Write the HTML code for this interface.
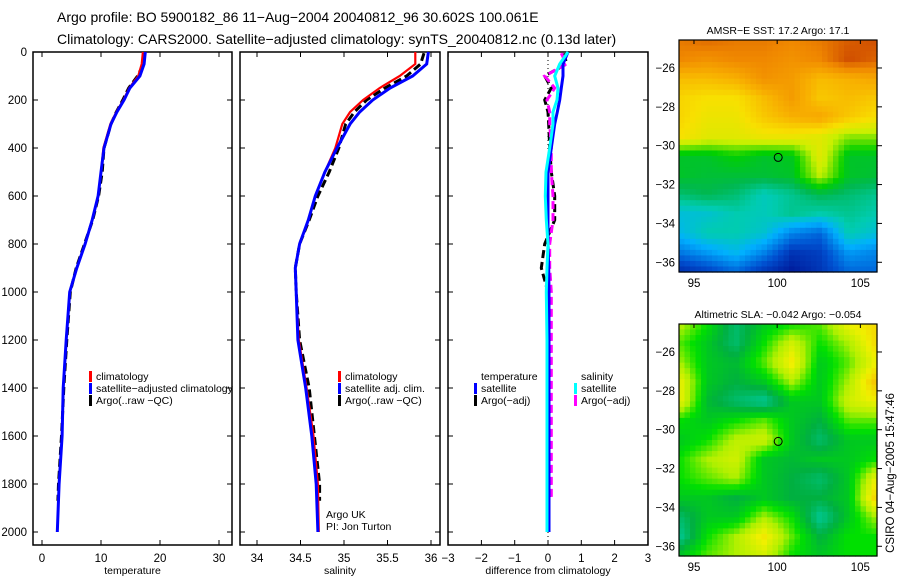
<!DOCTYPE html>
<html><head><meta charset="utf-8">
<style>
html,body{margin:0;padding:0;background:#fff;}
svg{display:block;font-family:"Liberation Sans",sans-serif;}
</style></head>
<body>
<svg id="fig" width="900" height="580" viewBox="0 0 900 580" xmlns="http://www.w3.org/2000/svg">
<text x="57" y="22" font-size="14">Argo profile: BO 5900182_86 11−Aug−2004 20040812_96 30.602S 100.061E</text>
<text x="57" y="44" font-size="14">Climatology: CARS2000. Satellite−adjusted climatology: synTS_20040812.nc (0.13d later)</text>
<g id="plots"></g>
</svg>
<script>
// ---------- data ----------
const depths = [0,50,100,150,200,250,300,400,500,600,700,800,900,1000,1200,1400,1600,1800,2000];
const tempSat  = [17.5,17.3,16.6,14.9,13.9,12.7,11.7,10.5,10.0,9.5,8.5,7.3,5.9,4.7,4.1,3.6,3.4,2.9,2.6];
const tempClim = [17.1,16.9,16.3,14.8,13.8,12.6,11.6,10.4,10.0,9.5,8.5,7.3,5.9,4.7,4.1,3.6,3.4,2.9,2.6];
const argoDepths = [5,50,100,150,200,250,300,400,500,600,700,800,900,1000,1200,1400,1600,1800,1870];
const tempArgo = [17.4,17.2,16.2,14.7,13.7,12.6,11.7,10.5,10.2,9.6,8.6,7.2,5.8,4.8,4.2,3.7,3.3,2.8,2.7];
const salSat  = [35.97,35.95,35.79,35.53,35.33,35.18,35.07,34.92,34.78,34.67,34.59,34.49,34.44,34.45,34.47,34.56,34.63,34.68,34.70];
const salClim = [35.82,35.82,35.64,35.41,35.22,35.07,34.98,34.90,34.78,34.67,34.59,34.49,34.44,34.45,34.48,34.57,34.65,34.70,34.71];
const salArgo = [35.92,35.88,35.72,35.47,35.26,35.12,35.02,34.94,34.83,34.70,34.60,34.49,34.44,34.45,34.49,34.60,34.66,34.72,34.72];
const diffTempSat  = [0.6,0.45,0.45,0.4,0.35,0.28,0.2,0.1,0.0,0.0,0.0,0.0,0.02,0.03,0.03,0.03,0.03,0.03,0.03];
const diffSalSat   = [0.6,0.35,0.2,0.3,0.27,0.15,0.15,0.05,-0.06,-0.08,-0.05,0.0,-0.03,-0.05,-0.03,-0.03,-0.03,-0.03,-0.03];
const diffTempArgo = [0.5,0.55,-0.1,0.1,-0.1,0.0,0.02,0.05,0.1,0.2,0.2,-0.1,-0.2,0.0,0.05,0.05,0.05,0.05,0.05];
const diffSalArgo  = [0.4,0.55,-0.1,0.2,-0.03,0.05,0.05,0.1,0.1,0.15,0.15,0.05,0.05,0.1,0.1,0.1,0.1,0.1,0.1];
const depthTicks = [0,200,400,600,800,1000,1200,1400,1600,1800,2000];
const tempTicks = [0,10,20,30];
const salTicks = [34,34.5,35,35.5,36];
const diffTicks = [-3,-2,-1,0,1,2,3];
const sstGrid = [
[0.84,0.86,0.84,0.84,0.82,0.84,0.88,0.90],
[0.82,0.80,0.82,0.82,0.80,0.82,0.90,0.87],
[0.72,0.72,0.74,0.80,0.78,0.72,0.74,0.76],
[0.68,0.66,0.66,0.72,0.78,0.70,0.72,0.70],
[0.68,0.64,0.64,0.70,0.74,0.76,0.70,0.66],
[0.66,0.62,0.62,0.64,0.64,0.62,0.55,0.55],
[0.45,0.45,0.48,0.45,0.46,0.62,0.45,0.45],
[0.45,0.44,0.44,0.44,0.45,0.58,0.45,0.44],
[0.40,0.42,0.40,0.35,0.38,0.42,0.40,0.38],
[0.32,0.33,0.36,0.35,0.38,0.36,0.38,0.36],
[0.30,0.36,0.36,0.33,0.22,0.18,0.36,0.32],
[0.20,0.25,0.30,0.22,0.10,0.12,0.25,0.22],
[0.08,0.12,0.18,0.10,0.05,0.10,0.18,0.18]];
const slaGrid = [
[0.62,0.50,0.35,0.45,0.50,0.55,0.70,0.75],
[0.55,0.45,0.35,0.50,0.65,0.50,0.60,0.75],
[0.60,0.45,0.42,0.55,0.72,0.45,0.55,0.70],
[0.70,0.45,0.40,0.45,0.60,0.45,0.60,0.80],
[0.70,0.42,0.35,0.30,0.45,0.45,0.65,0.70],
[0.50,0.45,0.50,0.55,0.45,0.40,0.55,0.55],
[0.45,0.50,0.62,0.65,0.45,0.35,0.45,0.45],
[0.50,0.60,0.65,0.45,0.42,0.45,0.45,0.50],
[0.50,0.55,0.60,0.45,0.40,0.35,0.45,0.70],
[0.45,0.45,0.40,0.45,0.40,0.40,0.45,0.78],
[0.35,0.45,0.45,0.60,0.50,0.30,0.45,0.60],
[0.30,0.50,0.60,0.72,0.55,0.40,0.50,0.50],
[0.45,0.55,0.60,0.65,0.50,0.45,0.50,0.50]];
const latTicks = [-26,-28,-30,-32,-34,-36];
const lonTicks = [95,100,105];
const argoLon = 100.061, argoLat = -30.602;

// ---------- helpers ----------
const NS = "http://www.w3.org/2000/svg";
const root = document.getElementById('plots');
function mk(tag, attrs, parent){ const e=document.createElementNS(NS,tag); for(const k in attrs) e.setAttribute(k,attrs[k]); (parent||root).appendChild(e); return e; }
const yD = d => 52 + d*0.24;
const FS = 11.5;

function panel(name, x0, x1, xs, ticks, tickFmt, xlabel){
  const g = mk('g',{});
  
  
  const fr = mk('rect',{x:x0,y:52,width:x1-x0,height:545-52,fill:'none',stroke:'#000','stroke-width':1.5},g);
  
  
  depthTicks.forEach(d=>{
    mk('line',{x1:x0,x2:x0+5,y1:yD(d),y2:yD(d),stroke:'#000'},g);
    mk('line',{x1:x1-5,x2:x1,y1:yD(d),y2:yD(d),stroke:'#000'},g);
  });
  ticks.forEach(t=>{
    const x=xs(t);
    mk('line',{x1:x,x2:x,y1:52,y2:57,stroke:'#000'},g);
    mk('line',{x1:x,x2:x,y1:540,y2:545,stroke:'#000'},g);
    const tl = mk('text',{x:x,y:562,'font-size':FS,'text-anchor':'middle'},g);
    tl.textContent = tickFmt(t);
    
    
  });
  const xl = mk('text',{x:(x0+x1)/2,y:574,'font-size':10.5,'text-anchor':'middle'},g);
  xl.textContent = xlabel;
  
  
  return g;
}
function series(g, name, xs, vals, ds, color, w, dash){
  const pts = vals.map((v,i)=>xs(v).toFixed(1)+','+yD(ds[i]).toFixed(1)).join(' ');
  const p = mk('polyline',{points:pts,fill:'none',stroke:color,'stroke-width':w},g);
  if(dash) p.setAttribute('stroke-dasharray',dash);
  
  
}
function legend(g, name, x, rows){
  rows.forEach((r,i)=>{
    const y = 376 + i*12;
    if(r[1]){ const m = mk('rect',{x:x,y:y-5,width:3,height:11,fill:r[1]},g);
      
       }
    const t = mk('text',{x:x+7,y:y+4,'font-size':10.5},g);
    t.textContent = r[0];
    
    
  });
}

depthTicks.forEach(d=>{
  const t = mk('text',{x:27,y:yD(d)+4,'font-size':FS,'text-anchor':'end'});
  t.textContent = d;
  
  
});

const xT = v => 42 + v*5.9;
const g1 = panel('temperature-panel', 33, 232, xT, tempTicks, t=>t, 'temperature');
series(g1,'temp-argo',xT,tempArgo,argoDepths,'#000',3,'8,4');
series(g1,'temp-climatology',xT,tempClim,depths,'#f00',2.2);
series(g1,'temp-satellite-adjusted',xT,tempSat,depths,'#00f',3);
legend(g1,'temp-legend',89,[['climatology','#f00'],['satellite−adjusted climatology','#00f'],['Argo(..raw −QC)','#000']]);

const xS = v => 257 + (v-34)*87;
const g2 = panel('salinity-panel', 240, 440, xS, salTicks, t=>String(t), 'salinity');
series(g2,'sal-argo',xS,salArgo,argoDepths,'#000',3,'8,4');
series(g2,'sal-climatology',xS,salClim,depths,'#f00',2.2);
series(g2,'sal-satellite-adjusted',xS,salSat,depths,'#00f',3);
legend(g2,'sal-legend',338,[['climatology','#f00'],['satellite adj. clim.','#00f'],['Argo(..raw −QC)','#000']]);
[['Argo UK',518],['PI: Jon Turton',530]].forEach(r=>{
  const t = mk('text',{x:326,y:r[1],'font-size':10.5},g2); t.textContent=r[0];
  
  
});

const xDf = v => 548 + v*33.3;
const g3 = panel('difference-panel', 448, 648, xDf, diffTicks, t=>t<0?'−'+(-t):String(t), 'difference from climatology');
const zl = mk('line',{x1:xDf(0),x2:xDf(0),y1:52,y2:545,stroke:'#000','stroke-dasharray':'1,3'},g3);


series(g3,'diff-temp-argo',xDf,diffTempArgo,argoDepths,'#000',3,'8,4');
series(g3,'diff-sal-argo',xDf,diffSalArgo,argoDepths,'#f0f',3,'8,4');
series(g3,'diff-temp-satellite',xDf,diffTempSat,depths,'#00f',3);
series(g3,'diff-sal-satellite',xDf,diffSalSat,depths,'#0ff',3);
legend(g3,'diff-temp-legend',474,[['temperature',null],['satellite','#00f'],['Argo(−adj)','#000']]);
legend(g3,'diff-sal-legend',574,[['salinity',null],['satellite','#0ff'],['Argo(−adj)','#f0f']]);

// ---------- maps ----------
function cmap(stops, v){
  for(let i=1;i<stops.length;i++){
    if(v<=stops[i][0]){
      const a=stops[i-1], b=stops[i], f=Math.max(0,(v-a[0])/(b[0]-a[0]));
      const c=[0,1,2].map(k=>Math.round(a[1][k]+(b[1][k]-a[1][k])*f));
      return 'rgb('+c.join(',')+')';
    }
  }
  const l=stops[stops.length-1][1]; return 'rgb('+l.join(',')+')';
}
const sstStops=[[0,[0,0,128]],[0.15,[0,80,208]],[0.28,[0,176,255]],[0.36,[0,204,176]],[0.42,[0,184,80]],[0.48,[0,208,0]],[0.58,[200,240,0]],[0.66,[248,224,0]],[0.74,[248,176,0]],[0.82,[240,136,0]],[0.92,[200,64,0]]];
const slaStops=[[0.3,[0,200,150]],[0.4,[0,176,64]],[0.5,[0,224,0]],[0.6,[176,240,0]],[0.7,[240,240,0]],[0.8,[248,192,0]]];

function drawMap(name, top, bottom, grid, stops, title){
  const g = mk('g',{});
  
  
  const L=679, R=877;
  const pxLat=(bottom-top)/11.94;
  const yLat = la => top + (-24.56 - la)*pxLat;
  const xLon = lo => L + (lo-94.1)*(R-L)/11.9;
  const nc=36, nr=42, cw=(R-L)/nc, ch=(bottom-top)/nr;
  const gr=grid.length, gc=grid[0].length;
  for(let r=0;r<nr;r++) for(let c=0;c<nc;c++){
    const fy=(r+0.5)/nr*(gr-1), fx=(c+0.5)/nc*(gc-1);
    const r0=Math.floor(fy), c0=Math.floor(fx), r1=Math.min(r0+1,gr-1), c1=Math.min(c0+1,gc-1);
    const ty=fy-r0, tx=fx-c0;
    const v=(grid[r0][c0]*(1-tx)+grid[r0][c1]*tx)*(1-ty)+(grid[r1][c0]*(1-tx)+grid[r1][c1]*tx)*ty;
    mk('rect',{x:(L+c*cw).toFixed(2),y:(top+r*ch).toFixed(2),width:(cw+0.6).toFixed(2),height:(ch+0.6).toFixed(2),fill:cmap(stops,v)},g);
  }
  const fr=mk('rect',{x:L,y:top,width:R-L,height:bottom-top,fill:'none',stroke:'#000','stroke-width':1.2},g);
  
  
  latTicks.forEach(la=>{
    const y=yLat(la);
    mk('line',{x1:R,x2:R+5,y1:y,y2:y,stroke:'#000'},g);
    const t=mk('text',{x:675,y:y+4,'font-size':FS,'text-anchor':'end'},g);
    t.textContent='−'+(-la);
    
    
  });
  lonTicks.forEach(lo=>{
    const x=xLon(lo);
    mk('line',{x1:x,x2:x,y1:top,y2:top+4,stroke:'#000'},g);
    const t=mk('text',{x:x,y:bottom+15,'font-size':FS,'text-anchor':'middle'},g);
    t.textContent=lo;
    
    
  });
  const c=mk('circle',{cx:xLon(argoLon),cy:yLat(argoLat),r:4,fill:'none',stroke:'#000','stroke-width':1},g);
  
  
  const t=mk('text',{x:(L+R)/2,y:top-6,'font-size':10.5,'text-anchor':'middle'},g);
  t.textContent=title;
  
  
}
drawMap('sst-map',40,272,sstGrid,sstStops,'AMSR−E SST: 17.2 Argo: 17.1');
drawMap('sla-map',324,556,slaGrid,slaStops,'Altimetric SLA: −0.042 Argo: −0.054');
const cr = mk('text',{x:0,y:0,'font-size':11.5,'text-anchor':'middle',transform:'translate(894,473) rotate(-90)'});
cr.textContent='CSIRO 04−Aug−2005 15:47:46';


</script>
</body></html>
